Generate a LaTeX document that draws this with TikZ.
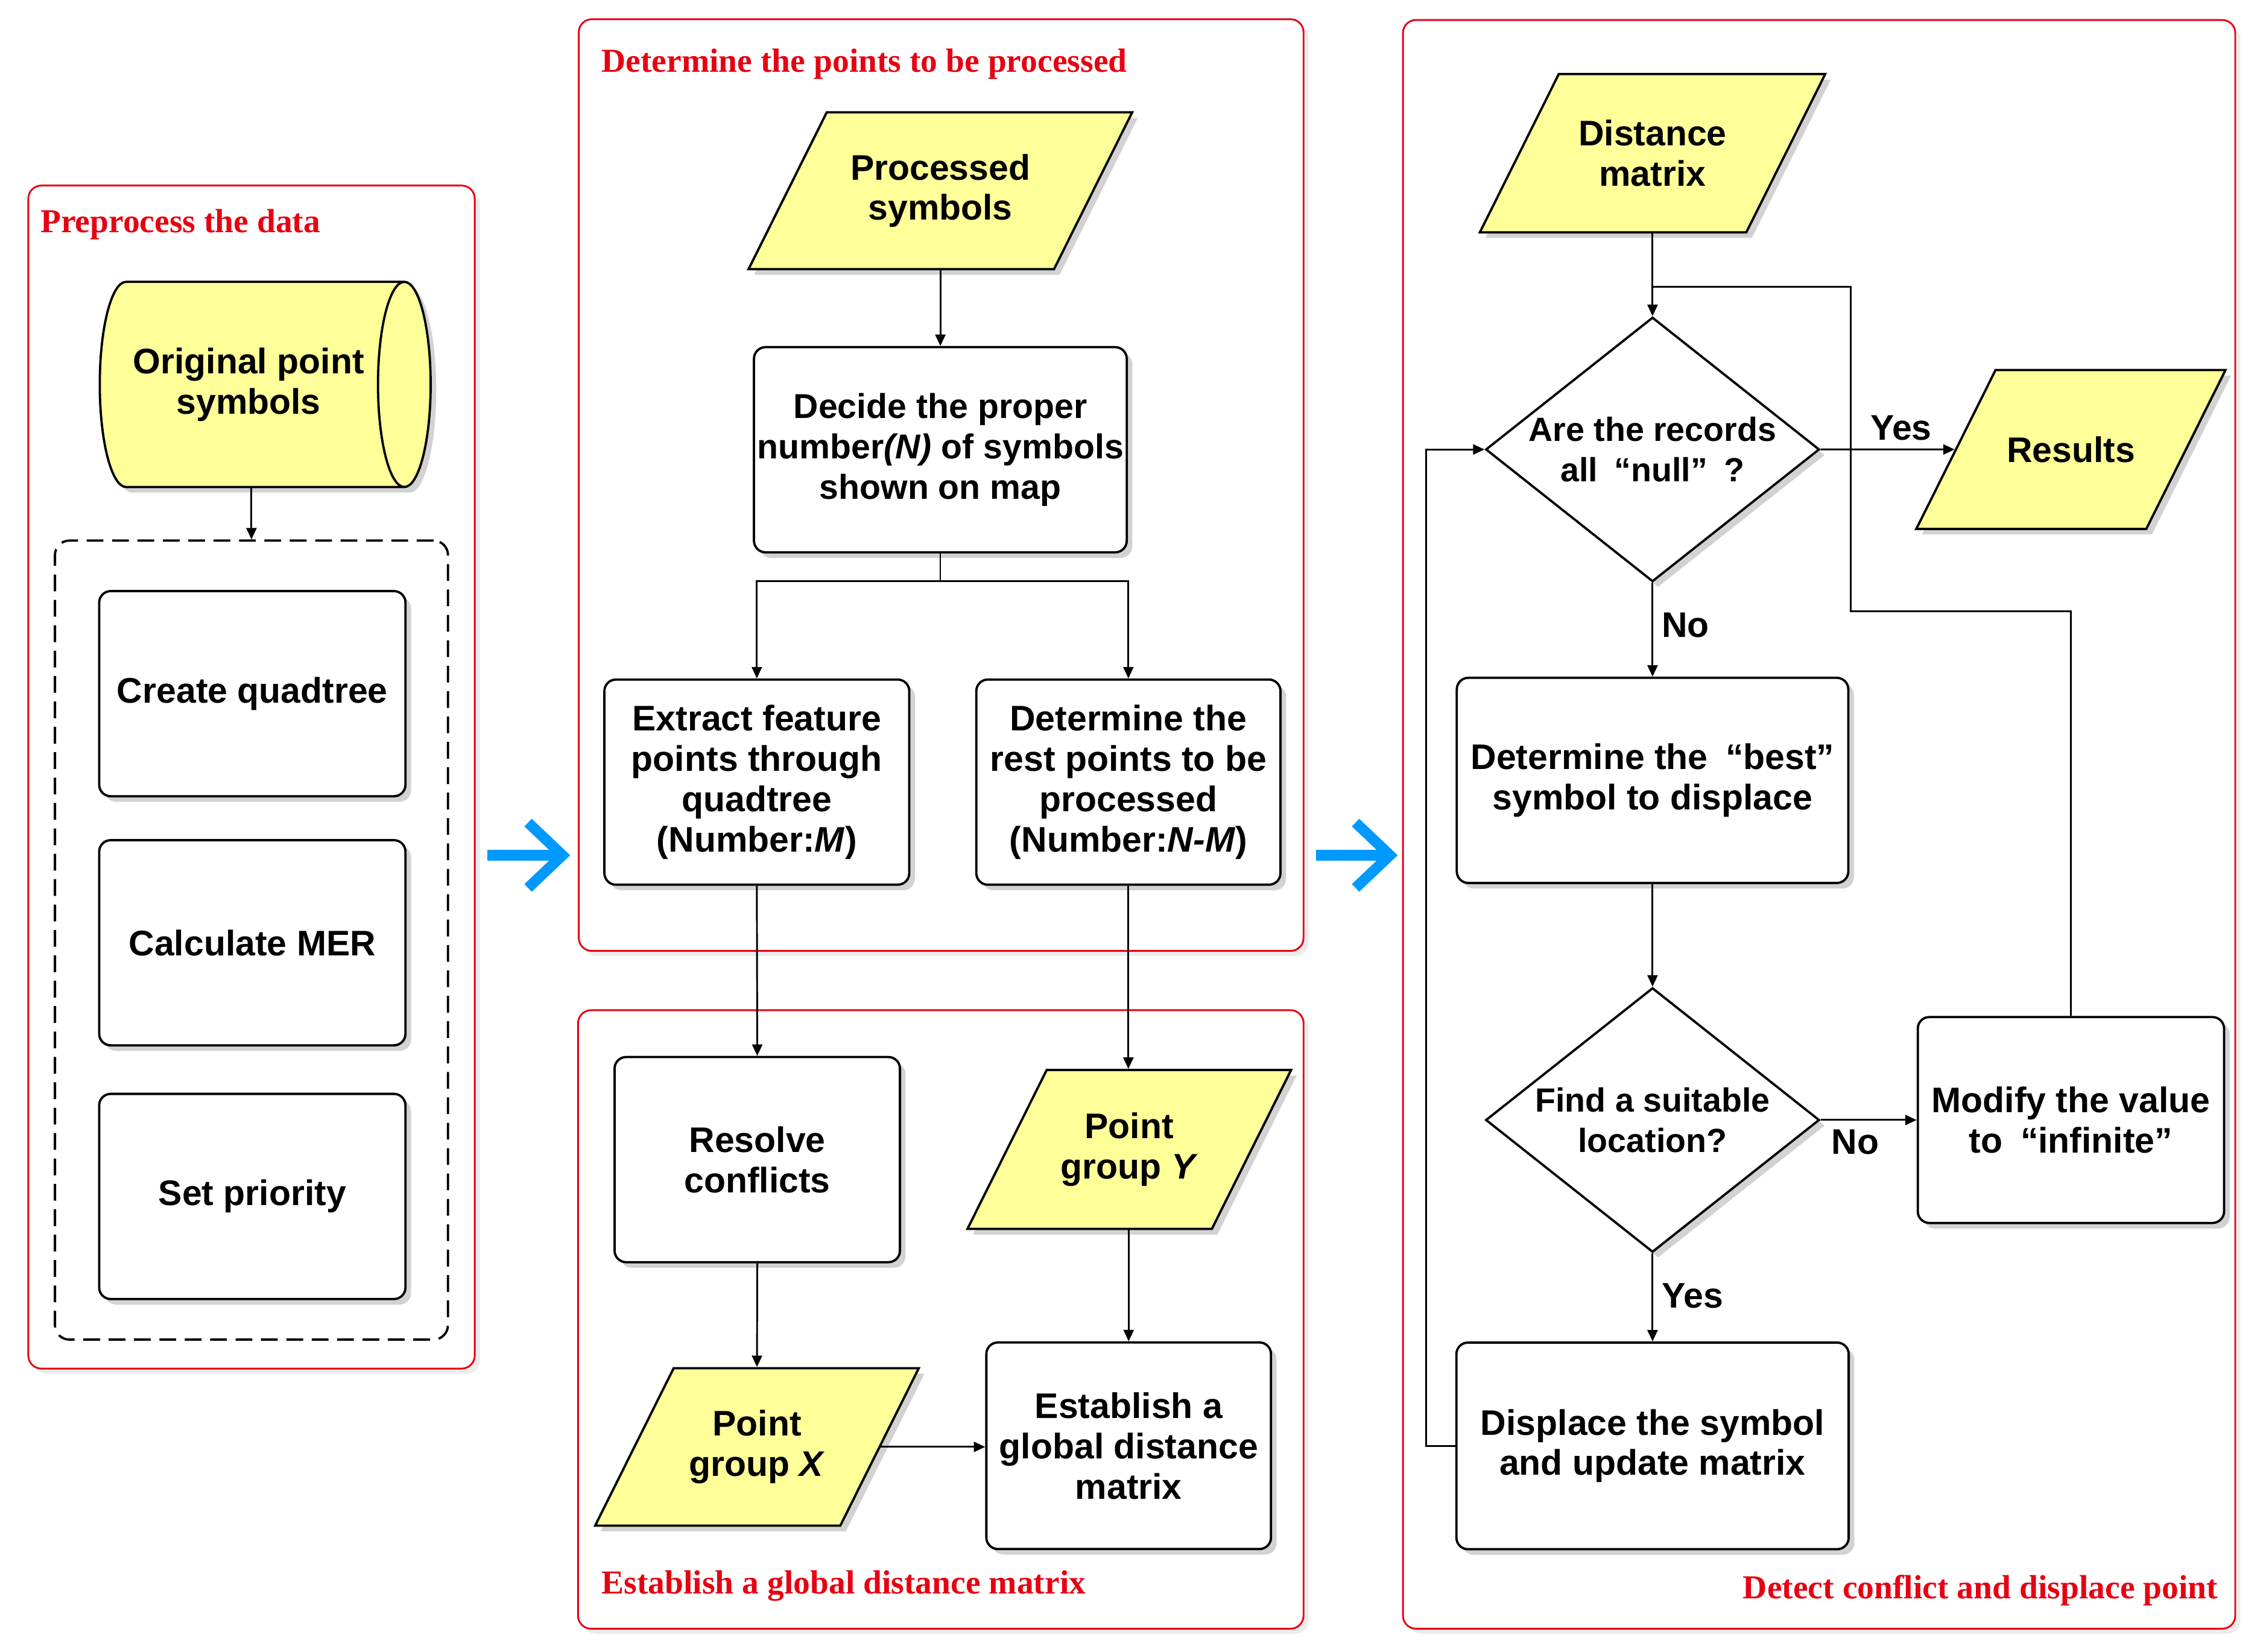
\documentclass[tikz,border=0pt]{standalone}
\usepackage{fontspec}
\setmainfont{Liberation Sans}
\newfontfamily\titlefont{Liberation Serif}
\usepackage{tikz}
\usetikzlibrary{positioning}
\usetikzlibrary{calc}
\usetikzlibrary{shapes.geometric}
\usetikzlibrary{arrows.meta}
\usetikzlibrary{shadows}

\definecolor{symbolyellow}{HTML}{FFFF99}
\definecolor{titlered}{HTML}{E60012}
\definecolor{flowblue}{HTML}{0099FF}

\tikzset{
  boxshadow/.style={drop shadow={shadow xshift=2.2pt,shadow yshift=-2.2pt,opacity=0.35}},
  procbox/.style={draw, line width=0.9pt, rounded corners=0.16cm, fill=white, boxshadow,
    align=center, inner sep=1pt, minimum height=2.84cm},
  databox/.style={trapezium, trapezium left angle=63.5, trapezium right angle=116.5,
    trapezium stretches body, draw, line width=0.9pt, fill=symbolyellow, boxshadow,
    inner sep=0pt},
  decision/.style={diamond, draw, line width=0.9pt, fill=white, boxshadow,
    inner sep=0pt, minimum width=4.62cm, minimum height=3.66cm},
  asktext/.style={align=center, font=\bfseries\fontsize{13.2}{15.9}\selectfont},
  groupbox/.style={draw, line width=0.9pt, dash pattern=on 6.6pt off 3.4pt,
    rounded corners=0.2cm, minimum width=5.44cm, minimum height=11.06cm},
  flow/.style={-{Triangle[length=4.5pt,width=4pt]}, line width=0.7pt},
  panel/.style={draw=titlered, line width=0.7pt, rounded corners=0.18cm, fill=white,
    drop shadow={shadow xshift=2pt,shadow yshift=-2pt,opacity=0.15}},
  paneltitle/.style={text=titlered, font=\titlefont\bfseries\fontsize{13.2}{15}\selectfont, inner sep=0pt},
  bigarrow/.style={draw=flowblue, line width=0.147cm},
}

\begin{document}
\begin{tikzpicture}[x=0.02cm, y=-0.02cm, node distance=0.6cm and 1cm,
  font=\bfseries\fontsize{14}{15.9}\selectfont]
\useasboundingbox (0,0) rectangle (1568,1143);

% panels
\draw[panel] (19.6,128.4) rectangle (328.5,947);
\draw[panel] (400.5,13.3) rectangle (902,658);
\draw[panel] (400,699) rectangle (902,1127);
\draw[panel] (970.8,13.8) rectangle (1546.7,1127);

\node[paneltitle, anchor=west] (title1) at (27.7,155.5) {Preprocess the data};
\node[paneltitle, anchor=west] (title2) at (416,44.5) {Determine the points to be processed};
\node[paneltitle, anchor=west] (title3) at (416,1097.5) {Establish a global distance matrix};
\node[paneltitle, anchor=east] (title4) at (1535,1100.5) {Detect conflict and displace point};

% preprocess
\node[cylinder, draw, line width=0.9pt, fill=symbolyellow, boxshadow, shape aspect=0.67,
  minimum height=4.58cm, minimum width=2.84cm, inner sep=1pt, align=center]
  (orig) at (172,266) {Original point\\symbols};
\node[groupbox] (group) at (174,650.5) {};
\node[procbox, minimum width=4.24cm] (quad) at (174.6,480) {Create quadtree};
\node[procbox, minimum width=4.24cm, below=0.576cm of quad] (mer) {Calculate MER};
\node[procbox, minimum width=4.24cm, below=0.64cm of mer] (prio) {Set priority};

\draw[flow] (orig.south -| group.north) -- (group.north);

% blue arrows
\draw[bigarrow] (337.2,591.8) -- (389,591.8);
\draw[bigarrow] (365.4,569.2) -- (389.2,591.8) -- (365.4,614.4);
\draw[bigarrow] (910.7,591.8) -- (961.6,591.8);
\draw[bigarrow] (938,569.2) -- (961.8,591.8) -- (938,614.4);

% points to be processed
\node[databox, minimum width=5.31cm, label={[align=center]center:Processed\\symbols}]
  (proc) at (650.7,132) {\rule{0pt}{2.17cm}};
\node[procbox, minimum width=5.16cm, inner xsep=0pt, font=\bfseries\fontsize{13.6}{15.9}\selectfont]
  (decide) at (650.7,311.2)
  {Decide the proper\\number\textit{(N)} of symbols\\shown on map};
\coordinate (fork) at (650.7,402);
\node[procbox, minimum width=4.22cm] (extract) at (523.7,541.2)
  {Extract feature\\points through\\quadtree\\(Number:\textit{M})};
\node[procbox, minimum width=4.21cm] (rest) at (780.8,541.2)
  {Determine the\\rest points to be\\processed\\(Number:\textit{N-M})};

\draw[flow] (proc.south) -- (decide.north);
\draw (decide.south) -- (fork);
\draw[flow] (fork) -| (extract.north);
\draw[flow] (fork) -| (rest.north);

% global distance matrix
\node[procbox, minimum width=3.95cm] (resolve) at (524,802.4) {Resolve\\conflicts};
\node[databox, minimum width=4.48cm, label={[align=center]center:Point\\group \textit{Y}}]
  (groupy) at (781.4,795.4) {\rule{0pt}{2.2cm}};
\node[databox, minimum width=4.48cm, label={[align=center]center:Point\\group \textit{X}}]
  (groupx) at (523.8,1001.2) {\rule{0pt}{2.18cm}};
\node[procbox, minimum width=3.94cm, minimum height=2.86cm] (global) at (781,1000.4)
  {Establish a\\global distance\\matrix};

\draw[flow] (extract.south) -- (resolve.north);
\draw[flow] (rest.south) -- (rest.south |- groupy.north);
\draw[flow] (resolve.south) -- (groupx.north);
\draw[flow] (groupy.south -| global.north) -- (global.north);
\draw[flow] (groupx.east) -- (groupx.east -| global.west);

% detect conflict and displace
\node[databox, minimum width=4.78cm, label={[align=center]center:Distance\\matrix}]
  (dist) at (1143.5,106) {\rule{0pt}{2.19cm}};
\node[decision, label={[asktext]center:Are the records\\all\enspace“null”\enspace?}] (isnull) at (1143.5,311) {};
\node[databox, minimum width=4.28cm, label={center:Results}]
  (result) at (1433,311) {\rule{0pt}{2.2cm}};
\node[procbox, minimum width=5.42cm] (best) at (1143.5,540)
  {Determine the\enspace“best”\\symbol to displace};
\node[decision, label={[asktext]center:Find a suitable\\location?}] (found) at (1143.5,775) {};
\node[procbox, minimum width=4.24cm, minimum height=2.85cm] (modify) at (1433,775)
  {Modify the value\\to\enspace“infinite”};
\node[procbox, minimum width=5.43cm, minimum height=2.86cm] (displace) at (1143.5,1000.5)
  {Displace the symbol\\and update matrix};
\coordinate (loopa) at (1280.5,423);
\coordinate (loopb) at (1280.5,198.5);
\coordinate (loopc) at (987,1001);

\draw[flow] (dist.south) -- (isnull.north);
\draw[flow] (isnull.east) -- node[above, pos=0.6] {Yes} (result.west);
\draw[flow] (isnull.south) -- node[right, pos=0.45] {No} (best.north);
\draw[flow] (best.south) -- (found.north);
\draw[flow] (found.east) -- node[below, pos=0.36] {No} (modify.west);
\draw[flow] (found.south) -- node[right, pos=0.48] {Yes} (displace.north);
\draw[line width=0.7pt] (modify.north) |- (loopa) -- (loopb) -- (loopb -| isnull.north);
\draw[flow] (displace.west) -- (displace.west -| loopc) |- (isnull.west);
\end{tikzpicture}
\end{document}
